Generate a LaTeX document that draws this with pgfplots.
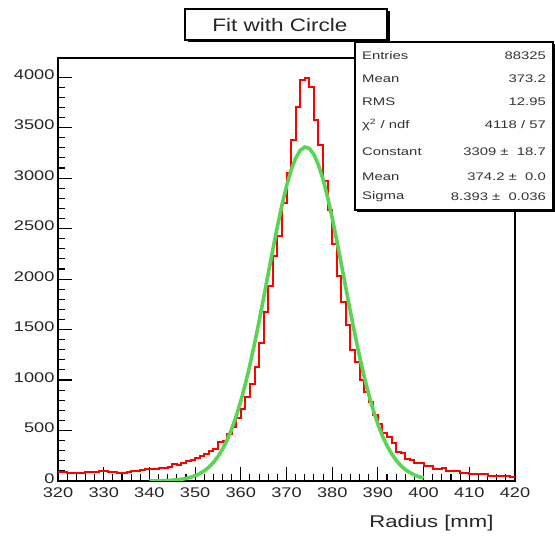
\documentclass[border=0pt]{standalone}
\usepackage{graphicx}
\usepackage{pgfplots}
\pgfplotsset{compat=1.18}
\usepackage{fontspec}
\setmainfont{Liberation Sans}
\definecolor{rootgreen}{RGB}{89,212,84}
\definecolor{rootred}{RGB}{255,0,0}
\begin{document}
\begin{tikzpicture}
\useasboundingbox (0,0) rectangle (555bp,537bp);
\begin{axis}[
  at={(58bp,56bp)}, anchor=south west,
  scale only axis, width=457bp, height=423bp,
  xmin=320, xmax=420, ymin=0, ymax=4190,
  xtick={320,330,...,420}, ytick={0,500,...,4000},
  minor x tick num=4, minor y tick num=4,
  tick align=inside, xtick pos=left, ytick pos=left,
  major tick length=14bp, minor tick length=7bp,
  axis line style={line width=1.5bp},
  tick style={line width=1.1bp, black},
  /pgf/number format/assume math mode=true,
  /pgf/number format/1000 sep={},
  xticklabel={\scalebox{1.3}[1]{\pgfmathprintnumber{\tick}}},
  yticklabel={\scalebox{1.3}[1]{\pgfmathprintnumber{\tick}}},
  tick label style={font=\fontsize{14bp}{16bp}\selectfont, text=black!85},
  xticklabel style={yshift=-3bp},
  yticklabel style={yshift=2.5bp},
]
\addplot[const plot, draw=rootred, no marks, line width=2bp] coordinates {
(320,90) (321,90) (322,75) (323,75) (324,75) (325,80) (326,90) (327,90) (328,85) (329,95)
(330,95) (331,90) (332,90) (333,80) (334,80) (335,85) (336,95) (337,100) (338,110) (339,120)
(340,120) (341,120) (342,125) (343,125) (344,140) (345,170) (346,160) (347,180) (348,195) (349,210)
(350,225) (351,245) (352,265) (353,300) (354,320) (355,390) (356,400) (357,470) (358,530) (359,620)
(360,710) (361,830) (362,960) (363,1130) (364,1370) (365,1670) (366,1930) (367,2230) (368,2430) (369,2750)
(370,3050) (371,3380) (372,3700) (373,3970) (374,3990) (375,3900) (376,3580) (377,3330) (378,2970) (379,2680)
(380,2350) (381,2030) (382,1770) (383,1550) (384,1300) (385,1180) (386,1000) (387,880) (388,780) (389,650)
(390,560) (391,480) (392,440) (393,380) (394,290) (395,280) (396,220) (397,210) (398,180) (399,175)
(400,150) (401,150) (402,120) (403,120) (404,130) (405,100) (406,100) (407,95) (408,80) (409,80)
(410,70) (411,70) (412,70) (413,65) (414,50) (415,50) (416,50) (417,45) (418,45) (419,40) (420,40)
};
\addplot[color=rootgreen, no marks, line width=3.6bp] coordinates {
(340,0.8) (341,1.3) (342,2.1) (343,3.3) (344,5.1) (345,7.8) (346,11.7) (347,17.3) (348,25.3) (349,36.5)
(350,51.8) (351,72.6) (352,100.2) (353,136.2) (354,182.8) (355,241.8) (356,315.2) (357,405.4) (358,513.9) (359,642.0)
(360,791.2) (361,960.6) (362,1150.5) (363,1358.4) (364,1581.0) (365,1814.7) (366,2053.2) (367,2290.2) (368,2518.8) (369,2731.3)
(370,2919.5) (371,3077.0) (372,3197.2) (373,3275.3) (374,3308.1) (375,3294.0) (376,3233.8) (377,3129.9) (378,2986.6) (379,2809.8)
(380,2606.3) (381,2383.1) (382,2148.6) (383,1909.8) (384,1673.6) (385,1446.0) (386,1231.6) (387,1034.3) (388,856.4) (389,699.1)
(390,562.7) (391,446.4) (392,349.2) (393,269.3) (394,204.8) (395,153.5) (396,113.5) (397,82.7) (398,59.4) (399,42.1) (400,29.4)
};
\end{axis}
\begin{scope}[x=1bp,y=1bp]
% title box
\fill[black] (187.5,494.5) rectangle (389.5,526);
\draw[line width=1.3bp, fill=white] (185,497) rectangle (387,528);
\node[text=black!85] at (280,512) {\fontsize{18bp}{20bp}\selectfont\scalebox{1.25}[1]{Fit with Circle}};
% stats box
\fill[black] (357,325) rectangle (555,493);
\draw[line width=1.3bp, fill=white] (355,327) rectangle (553,495);
\begin{scope}[every node/.style={font=\fontsize{11bp}{13bp}\selectfont, text=black!80, inner sep=0pt}]
\node[anchor=west] at (362,481) {\scalebox{1.35}[1]{Entries}};
\node[anchor=east] at (546,481) {\scalebox{1.35}[1]{88325}};
\node[anchor=west] at (362,458) {\scalebox{1.35}[1]{Mean}};
\node[anchor=east] at (546,458) {\scalebox{1.35}[1]{373.2}};
\node[anchor=west] at (362,435) {\scalebox{1.35}[1]{RMS}};
\node[anchor=east] at (546,435) {\scalebox{1.35}[1]{12.95}};
\node[anchor=west] at (362,412) {\scalebox{1.35}[1]{χ\textsuperscript{2} / ndf}};
\node[anchor=east] at (546,412) {\scalebox{1.35}[1]{4118 / 57}};
\node[anchor=west] at (362,385) {\scalebox{1.35}[1]{Constant}};
\node[anchor=east] at (546,385) {\scalebox{1.35}[1]{3309 ± \;18.7}};
\node[anchor=west] at (362,360) {\scalebox{1.35}[1]{Mean}};
\node[anchor=east] at (546,360) {\scalebox{1.35}[1]{374.2 ± \;0.0}};
\node[anchor=west] at (362,340) {\scalebox{1.35}[1]{Sigma}};
\node[anchor=east] at (546,340) {\scalebox{1.35}[1]{8.393 ± \;0.036}};
\end{scope}
% axis title
\node[anchor=east, text=black!85] at (497,14) {\fontsize{17bp}{19bp}\selectfont\scalebox{1.3}[1]{Radius [mm]}};
\end{scope}
\end{tikzpicture}
\end{document}
